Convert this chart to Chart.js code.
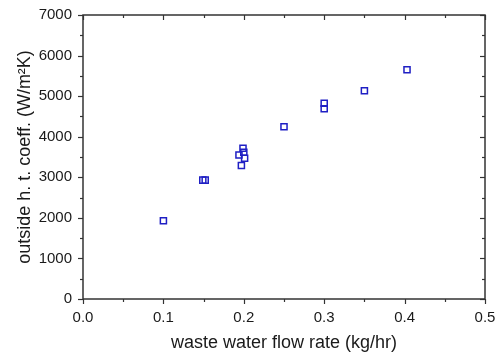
<!DOCTYPE html>
<html>
<head>
<meta charset="utf-8">
<script src="https://cdn.jsdelivr.net/npm/chart.js@4/dist/chart.umd.min.js"></script>
<style>
  html, body { margin: 0; padding: 0; background: #fff; }
  #wrap { width: 497px; height: 355px; }
</style>
</head>
<body>
<div id="wrap"><canvas id="chart"></canvas></div>
<script>
const flowRate = [0.100, 0.149, 0.152, 0.194, 0.197, 0.199, 0.200, 0.201, 0.250, 0.300, 0.300, 0.350, 0.403]
const htCoeff  = [1930, 2930, 2930, 3550, 3290, 3715, 3615, 3470, 4245, 4825, 4690, 5135, 5650]

// Axis ticks
const xMajor = [0, 0.1, 0.2, 0.3, 0.4, 0.5]
const xMinor = [0.05, 0.15, 0.25, 0.35, 0.45]
const yMajor = [0, 1000, 2000, 3000, 4000, 5000, 6000, 7000]
const yMinor = [500, 1500, 2500, 3500, 4500, 5500, 6500]

const FONT = 'Liberation Sans, Arial, sans-serif'
const AXIS = '#333333'
const TEXT = '#1a1a1a'

// Box frame with ticks: outward on left/bottom, inward on top/right
const frameTicks = {
  id: 'frameTicks',
  beforeDatasetsDraw(chart) {
    const { ctx, chartArea: a, scales: { x, y } } = chart
    ctx.save()
    ctx.strokeStyle = AXIS
    ctx.lineWidth = 1.5
    ctx.strokeRect(a.left, a.top, a.right - a.left, a.bottom - a.top)
    ctx.lineWidth = 1.2
    const tick = (x1, y1, x2, y2) => { ctx.beginPath(); ctx.moveTo(x1, y1); ctx.lineTo(x2, y2); ctx.stroke() }
    for (const [vals, len] of [[xMajor, 5], [xMinor, 3]]) {
      for (const v of vals) {
        const px = Math.round(x.getPixelForValue(v)) + 0.5
        tick(px, a.bottom, px, a.bottom + len)
        tick(px, a.top, px, a.top + len)
      }
    }
    for (const [vals, len] of [[yMajor, 5], [yMinor, 3]]) {
      for (const v of vals) {
        const py = Math.round(y.getPixelForValue(v)) + 0.5
        tick(a.left - len, py, a.left, py)
        tick(a.right - len, py, a.right, py)
      }
    }
    ctx.restore()
  },
}

const ctx = document.getElementById('chart').getContext('2d')
new Chart(ctx, {
  type: 'scatter',
  data: {
    datasets: [{
      label: 'h',
      data: flowRate.map((v, i) => ({ x: v, y: htCoeff[i] })),
      pointStyle: 'rect',
      pointRadius: 4.3,
      pointHoverRadius: 4.3,
      pointBorderWidth: 1.5,
      borderColor: '#1f1fc4',
      backgroundColor: 'rgba(0,0,0,0)',
    }],
  },
  options: {
    responsive: true,
    maintainAspectRatio: false,
    animation: false,
    layout: { padding: { top: 15, right: 0, left: 0, bottom: 0 } },
    plugins: {
      legend: { display: false },
      tooltip: { enabled: false },
    },
    scales: {
      x: {
        type: 'linear',
        min: 0,
        max: 0.5,
        afterFit: s => { s.height = 56; s.paddingLeft = 0; s.paddingRight = 12 },
        afterBuildTicks: s => { s.ticks = xMajor.map(v => ({ value: v })) },
        grid: { display: false, drawTicks: false },
        border: { display: false },
        ticks: {
          padding: 10,
          color: TEXT,
          font: { family: FONT, size: 15 },
          callback: v => v.toFixed(1),
        },
        title: {
          display: true,
          text: 'waste water flow rate (kg/hr)',
          color: TEXT,
          font: { family: FONT, size: 18 },
          padding: { top: 2, bottom: 1 },
        },
      },
      y: {
        type: 'linear',
        min: 0,
        max: 7000,
        afterFit: s => { s.width = 83; s.paddingTop = 0; s.paddingBottom = 0 },
        afterBuildTicks: s => { s.ticks = yMajor.map(v => ({ value: v })) },
        grid: { display: false, drawTicks: false },
        border: { display: false },
        ticks: {
          padding: 11,
          color: TEXT,
          font: { family: FONT, size: 15 },
          callback: v => String(v),
        },
        title: {
          display: true,
          text: 'outside h. t. coeff. (W/m²K)',
          color: TEXT,
          font: { family: FONT, size: 18 },
          padding: { top: 14, bottom: 2 },
        },
      },
    },
  },
  plugins: [frameTicks],
})
</script>
</body>
</html>
